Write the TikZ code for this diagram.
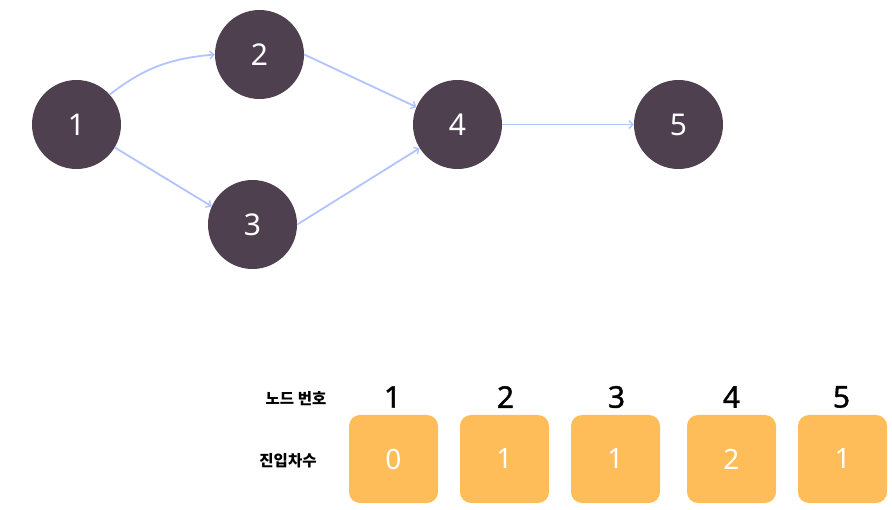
\documentclass[tikz,border=0pt]{standalone}
\usepackage{fontspec}
\setmainfont{Noto Sans}
\newfontfamily\krfont{Noto Sans CJK KR}
\newfontfamily\hdrfont{Noto Sans}[FakeBold=1.3]
\usetikzlibrary{arrows.meta}
\definecolor{nodefill}{HTML}{4F404F}
\definecolor{edgecol}{HTML}{B3C3FF}
\definecolor{boxfill}{HTML}{FFBD59}
\tikzset{
  gnode/.style={circle,fill=nodefill,minimum size=89pt,inner sep=0pt,text=white,font=\fontsize{30}{30}\selectfont},
  gedge/.style={draw=edgecol,line width=1.8pt,-{Straight Barb[length=4pt,width=8pt,line width=1.4pt]}},
  degbox/.style={rounded corners=11pt,fill=boxfill,minimum width=89pt,minimum height=88pt,inner sep=0pt,text=white,font=\fontsize{28}{28}\selectfont},
  hdr/.style={font=\hdrfont\fontsize{30}{30}\selectfont,text=black,inner sep=0pt},
  lbl/.style={font=\krfont\bfseries\fontsize{15.5}{15.5}\selectfont,text=black,inner sep=0pt}
}
\begin{document}
\begin{tikzpicture}[x=1pt,y=-1pt]
\useasboundingbox (0,0) rectangle (892,510);
\node[gnode] (n1) at (76.5,124.5) {1};
\node[gnode] (n2) at (259.5,54.5) {2};
\node[gnode] (n3) at (252.5,224.5) {3};
\node[gnode] (n4) at (457.5,124.5) {4};
\node[gnode] (n5) at (678.5,124.5) {5};
\draw[gedge] (n1.42) to[out=38,in=185] (n2.west);
\draw[gedge] (n2.east) -- (n4.157);
\draw[gedge] (n1.-31) -- (n3.156);
\draw[gedge] (n3.east) -- (n4.212);
\draw[gedge] (n4.east) -- (n5.west);
\node[lbl] (lnum) at (296,399) {노드 번호};
\node[lbl] (ldeg) at (288,461) {진입차수};
\node[hdr] (h1) at (392.5,397) {1};
\node[hdr] (h2) at (505.5,397) {2};
\node[hdr] (h3) at (616.5,397) {3};
\node[hdr] (h4) at (731.5,397) {4};
\node[hdr] (h5) at (841.5,397) {5};
\node[degbox] (b1) at (393.5,459) {0};
\node[degbox] (b2) at (504.5,459) {1};
\node[degbox] (b3) at (615.5,459) {1};
\node[degbox] (b4) at (731.5,459) {2};
\node[degbox] (b5) at (842.5,459) {1};
\end{tikzpicture}
\end{document}
